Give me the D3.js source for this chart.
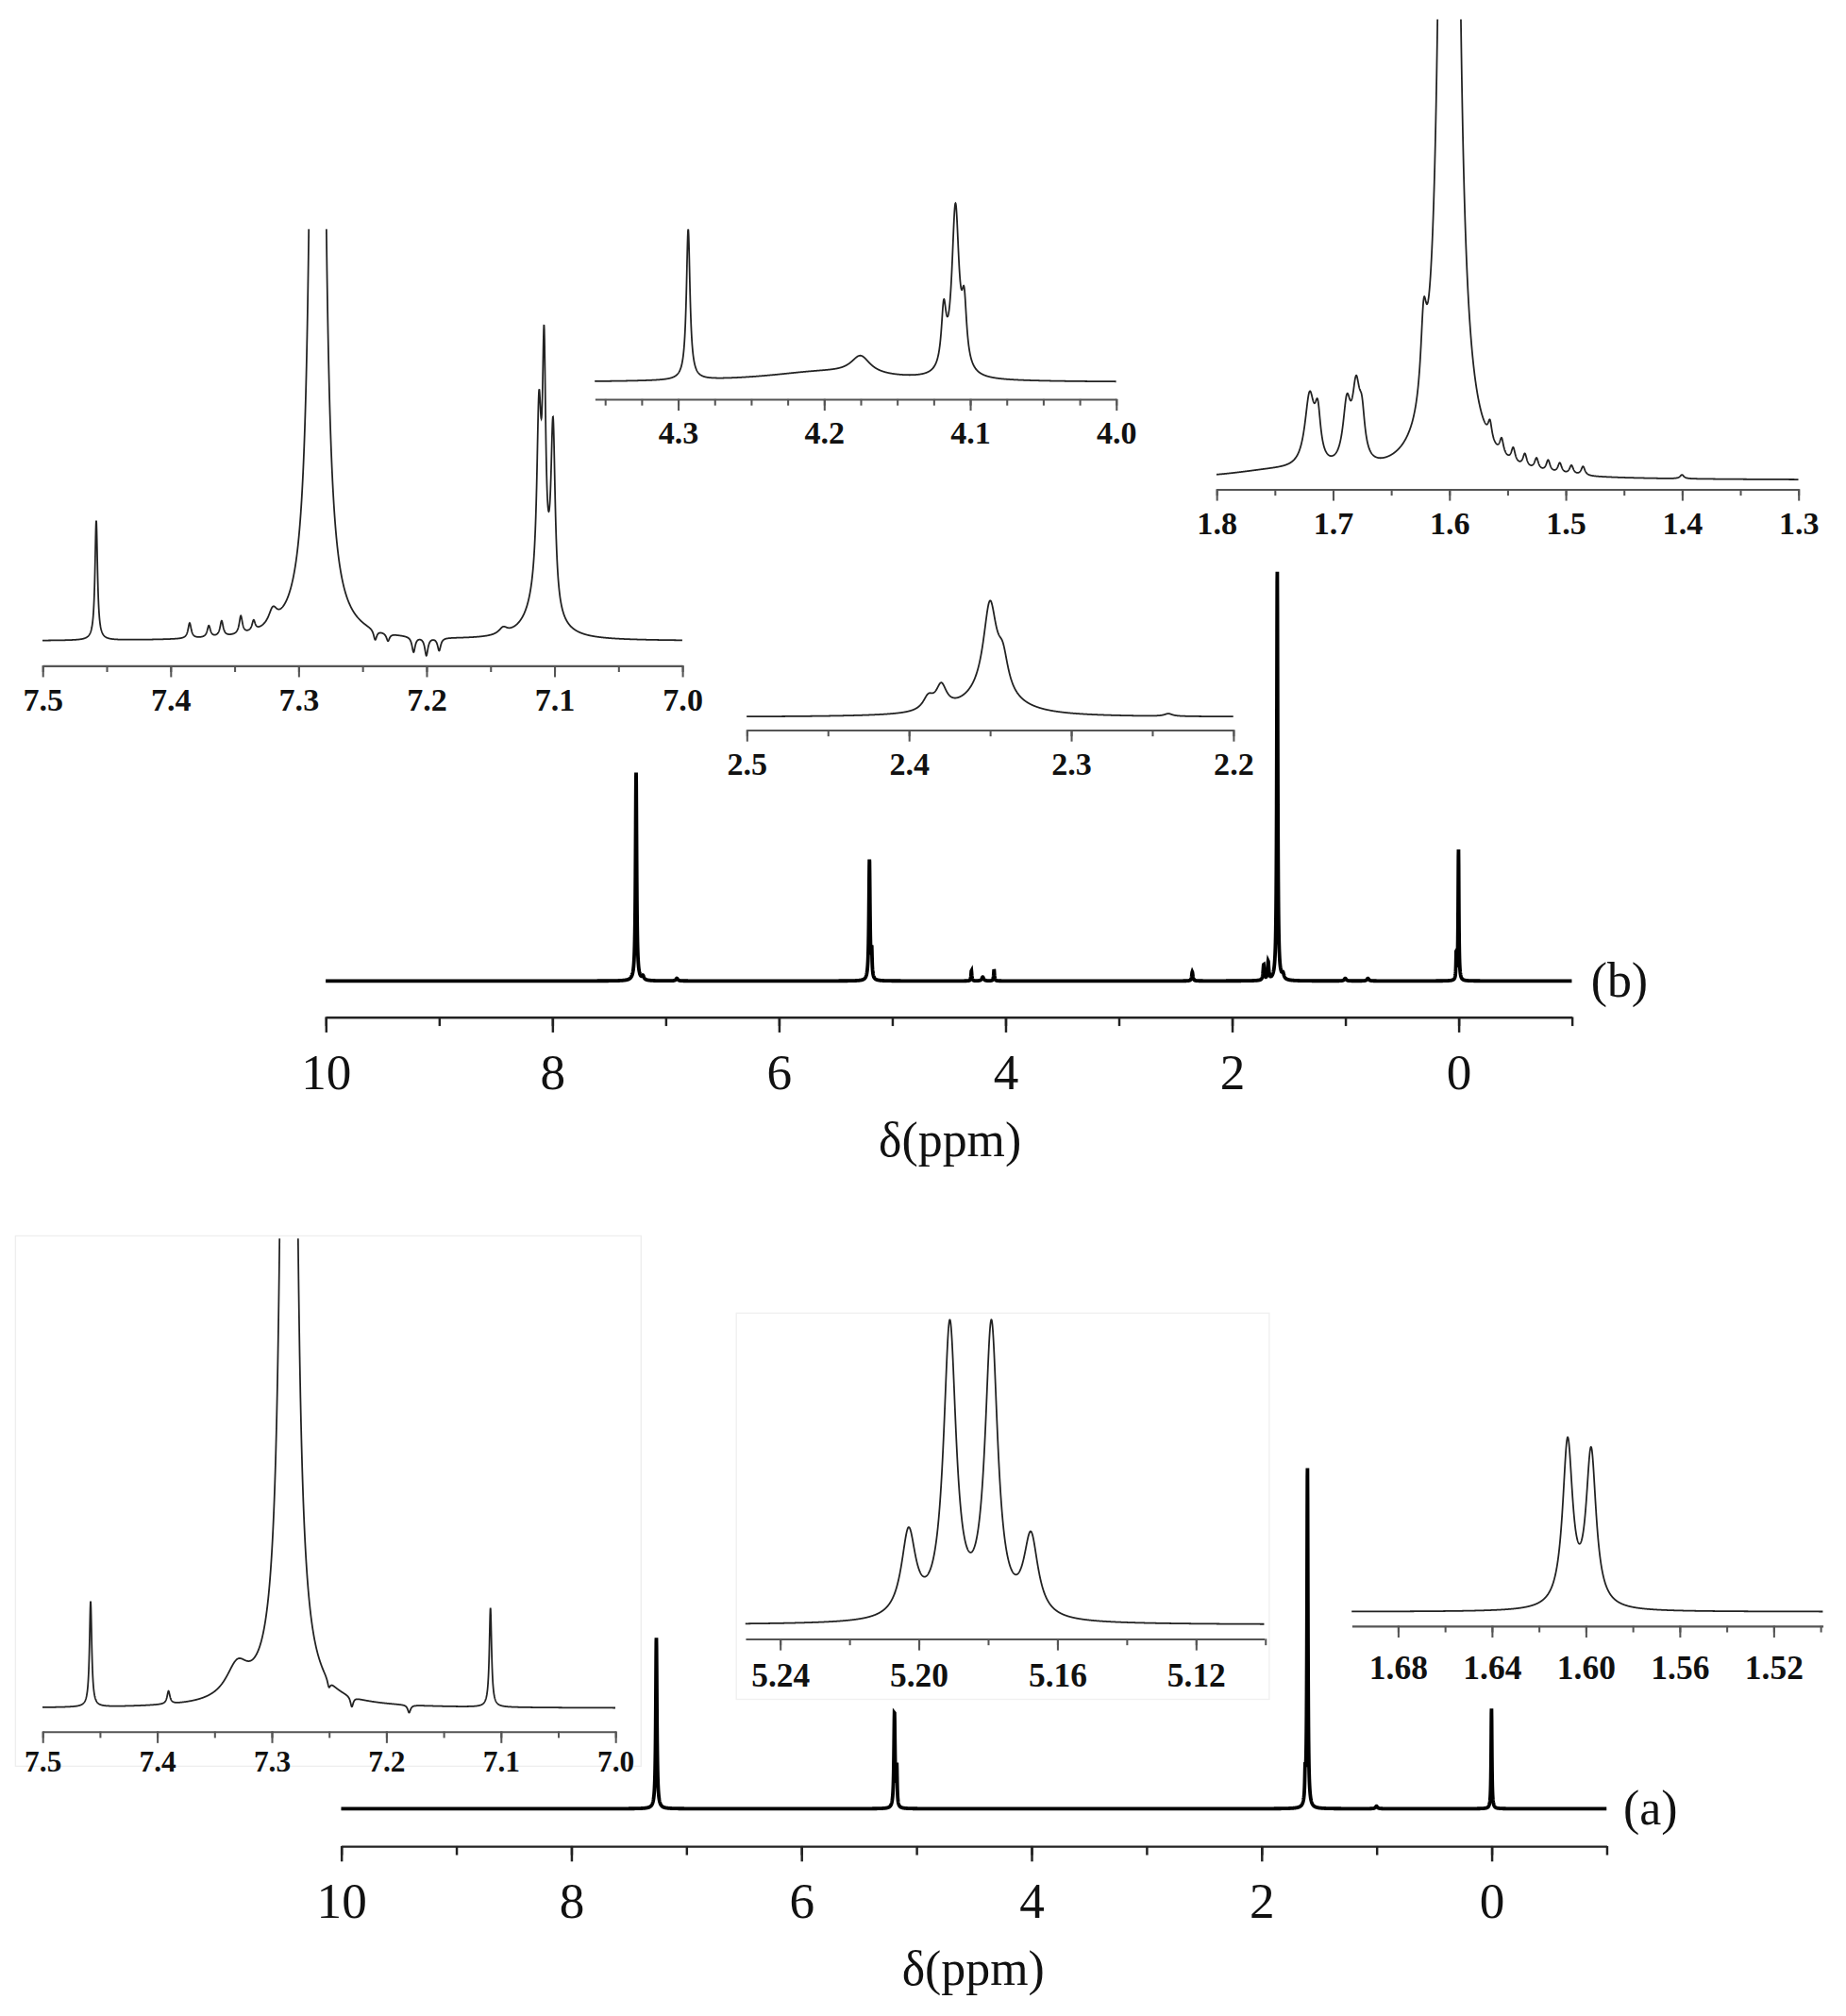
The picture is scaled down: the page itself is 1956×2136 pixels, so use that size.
<!DOCTYPE html><html><head><meta charset="utf-8">
<script src="https://cdn.jsdelivr.net/npm/d3@7"></script>
<style>body{margin:0;background:#fff}</style></head><body>
<script>
// Peak lists: [ppm, height(px above baseline, display units), half-width ppm]
const peaksMainB=[[7.26,162,0.006],[7.2,3,0.01],[6.9,2,0.01],[5.20,94,0.006],[5.18,20,0.004],[4.3,8,0.004],[4.1,9,0.004],[4.2,3,0.01],[2.35,7,0.006],[1.72,12,0.006],[1.68,14,0.006],[1.60,319,0.005],[1.55,4,0.01],[1.0,2,0.01],[0.8,2,0.01],[0.0,102,0.004],[0.02,20,0.003]];
const peaksMainA=[[7.26,133,0.006],[5.19,74,0.006],[5.17,30,0.004],[1.60,265,0.005],[1.62,20,0.004],[1.0,2,0.01],[0.0,78,0.004]];
const peaksIn1=[[7.458,93,0.0012],[7.285,2000,0.003],[7.32,12,0.004],[7.385,12,0.0015],[7.37,9,0.0015],[7.36,12,0.0015],[7.345,14,0.0015],[7.335,8,0.0015],[7.112,130,0.002],[7.108,170,0.0015],[7.101,140,0.002],[7.11,40,0.01],[7.14,5,0.004],[7.24,-8,0.0015],[7.21,-12,0.0015],[7.2,-14,0.0015],[7.19,-10,0.0015],[7.23,-6,0.0015]];
const peaksIn2=[[4.293,117,0.0015],[4.11,130,0.003],[4.118,45,0.002],[4.104,45,0.002],[4.175,14,0.008],[4.2,8,0.05]];
const peaksIn3=[[1.600,4330,0.003],[1.622,60,0.003],[1.72,55,0.005],[1.713,35,0.003],[1.688,45,0.004],[1.68,55,0.004],[1.675,30,0.003],[1.565,14,0.002],[1.555,12,0.002],[1.545,11,0.002],[1.535,10,0.002],[1.525,9,0.002],[1.515,9,0.002],[1.505,8,0.002],[1.495,7,0.002],[1.485,7,0.002],[1.4,3,0.002],[1.75,6,0.05]];
const peaksIn4=[[2.35,70,0.005],[2.342,25,0.004],[2.38,18,0.004],[2.388,10,0.004],[2.35,15,0.02],[2.24,2,0.003]];
const peaksIn5=[[7.458,82,0.0012],[7.285,3000,0.003],[7.33,25,0.012],[7.39,10,0.0015],[7.109,77,0.0012],[7.25,-6,0.0015],[7.23,-8,0.0015],[7.18,-6,0.0015]];
const peaksIn6=[[5.2029,66,0.0025],[5.191,226,0.0022],[5.179,226,0.0022],[5.1676,62,0.0025]];
const peaksIn7=[[1.6077,128,0.0026],[1.5977,120,0.0026]];
const mainTicks=[10,8,6,4,2,0];
const ticksIn1=[7.5,7.4,7.3,7.2,7.1,7.0];
const ticksIn2=[4.3,4.2,4.1,4.0];
const ticksIn3=[1.8,1.7,1.6,1.5,1.4,1.3];
const ticksIn4=[2.5,2.4,2.3,2.2];
const ticksIn5=[7.5,7.4,7.3,7.2,7.1,7.0];
const ticksIn6=[5.24,5.20,5.16,5.12];
const ticksIn7=[1.68,1.64,1.60,1.56,1.52];

const svg=d3.select("body").append("svg").attr("width",1956).attr("height",2136).attr("viewBox","0 0 1434 1566");
const spec=(pk,x)=>pk.reduce((s,p)=>s+p[1]*p[2]*p[2]/((x-p[0])**2+p[2]*p[2]),0);
let cid=0;
const rng=(a,b,s)=>d3.range(Math.round((b-a)/s)+1).map(i=>+(a+i*s).toFixed(4));
function panel(o){
  const x=d3.scaleLinear().domain(o.dom).range(o.xr);
  const y=d3.scaleLinear().domain([0,100]).range([o.base,o.base-100]);
  const n=o.n||3000, pts=d3.range(n+1).map(i=>o.dom[0]+(o.dom[1]-o.dom[0])*i/n);
  const id="c"+(cid++);
  svg.append("clipPath").attr("id",id).append("rect").attr("x",o.xr[0]-2).attr("y",o.top).attr("width",o.xr[1]-o.xr[0]+4).attr("height",o.base-o.top+40);
  svg.append("path").attr("clip-path",`url(#${id})`).attr("fill","none").attr("stroke",o.col||"#222").attr("stroke-width",o.sw||1.3)
    .attr("d",d3.line().x(d=>x(d)).y(d=>y(spec(o.pk,d)))(pts));
  const ac=o.acol||"#555", aw=o.asw||1.5;
  const ax=svg.append("g").attr("transform",`translate(0,${o.ay})`)
    .call(d3.axisBottom(x).tickValues(o.minor).tickSize(o.mt).tickSizeOuter(0).tickFormat(""));
  ax.select(".domain").attr("stroke",ac).attr("stroke-width",aw);
  ax.selectAll(".tick line").attr("stroke",ac).attr("stroke-width",aw);
  const ax2=svg.append("g").attr("transform",`translate(0,${o.ay})`)
    .call(d3.axisBottom(x).tickValues(o.ticks).tickSize(o.Mt).tickPadding(o.pad).tickFormat(o.fmt));
  ax2.select(".domain").remove();
  ax2.selectAll(".tick line").attr("stroke",ac).attr("stroke-width",aw);
  ax2.selectAll("text").attr("fill","#111").attr("font-family","Liberation Serif").attr("font-size",o.fs).attr("font-weight",o.fw||"normal");
  return x;
}
function label(x,y,t,fs){svg.append("text").attr("x",x).attr("y",y).attr("text-anchor","middle").attr("font-family","Liberation Serif").attr("font-size",fs).attr("fill","#111").text(t);}
const f1=d3.format(".1f"), f2=d3.format(".2f");
// faint inset frames (a)
svg.append("rect").attr("x",12).attr("y",960).attr("width",486).attr("height",412).attr("fill","none").attr("stroke","#eee");
svg.append("rect").attr("x",572).attr("y",1020).attr("width",414).attr("height",300).attr("fill","none").attr("stroke","#f0f0f0");
// main b
panel({dom:[10,-1],xr:[253,1221],base:762,top:400,ay:790,pk:peaksMainB,n:9000,sw:2.8,col:"#000",ticks:mainTicks,minor:rng(-1,10,1),mt:7,Mt:12,pad:16,fs:39,fmt:d3.format("d"),acol:"#222",asw:1.8});
label(738,898,"δ(ppm)",38); label(1258,774,"(b)",38);
// main a
panel({dom:[10,-1],xr:[265,1248],base:1405,top:1050,ay:1434,pk:peaksMainA,n:9000,sw:2.8,col:"#000",ticks:mainTicks,minor:rng(-1,10,1),mt:7,Mt:12,pad:16,fs:39,fmt:d3.format("d"),acol:"#222",asw:1.8});
label(756,1542,"δ(ppm)",38); label(1282,1417,"(a)",38);
// insets b
panel({dom:[7.5,7.0],xr:[33,530],base:498,top:178,ay:517,pk:peaksIn1,ticks:ticksIn1,minor:rng(7.0,7.5,0.05),mt:5,Mt:9,pad:8,fs:25,fw:"bold",fmt:f1});
panel({dom:[4.357,4.0],xr:[462,867],base:297,top:100,ay:310,pk:peaksIn2,ticks:ticksIn2,minor:rng(4.0,4.35,0.025),mt:5,Mt:9,pad:8,fs:25,fw:"bold",fmt:f1});
panel({dom:[1.8,1.3],xr:[945,1397],base:373,top:15,ay:380,pk:peaksIn3,ticks:ticksIn3,minor:rng(1.3,1.8,0.05),mt:5,Mt:9,pad:8,fs:25,fw:"bold",fmt:f1});
panel({dom:[2.5,2.2],xr:[580,958],base:557,top:420,ay:567,pk:peaksIn4,ticks:ticksIn4,minor:rng(2.2,2.5,0.05),mt:5,Mt:9,pad:8,fs:25,fw:"bold",fmt:f1});
// insets a
panel({dom:[7.5,7.0],xr:[33,478],base:1327,top:962,ay:1345,pk:peaksIn5,ticks:ticksIn5,minor:rng(7.0,7.5,0.05),mt:5,Mt:9,pad:6,fs:23,fw:"bold",fmt:f1});
panel({dom:[5.25,5.1003],xr:[579,982],base:1262,top:1000,ay:1273,pk:peaksIn6,ticks:ticksIn6,minor:rng(5.1,5.24,0.02),mt:5,Mt:9,pad:10,fs:26,fw:"bold",fmt:f2});
panel({dom:[1.6997,1.499],xr:[1050,1416],base:1252,top:1050,ay:1263,pk:peaksIn7,ticks:ticksIn7,minor:rng(1.5,1.68,0.02),mt:5,Mt:9,pad:14,fs:26,fw:"bold",fmt:f2});
</script></body></html>
